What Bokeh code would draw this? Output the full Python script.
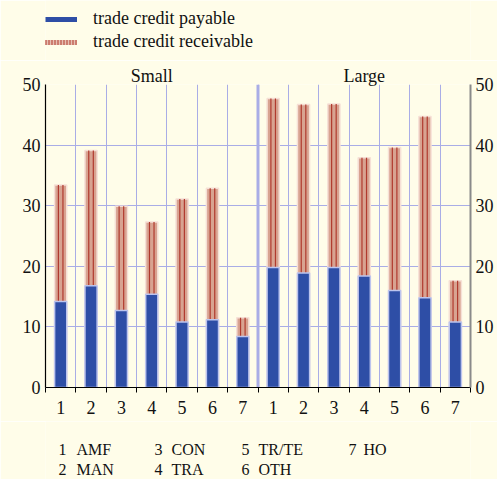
from bokeh.plotting import figure
from bokeh.models import (ColumnDataSource, Range1d, LinearAxis, FixedTicker, Span,
                          Legend, LegendItem)
from bokeh.layouts import column
from bokeh.core.properties import value
from bokeh.transform import dodge
from bokeh.embed import file_html
from bokeh.resources import INLINE
import numpy as np

# ---- data ----
groups = ["Small", "Large"]
sector_ids = ["1", "2", "3", "4", "5", "6", "7"]
sector_codes = ["AMF", "MAN", "CON", "TRA", "TR/TE", "OTH", "HO"]
payable_small = [14.2, 16.8, 12.7, 15.4, 10.8, 11.2, 8.4]
receivable_small = [33.4, 39.1, 29.9, 27.3, 31.1, 32.9, 11.5]
payable_large = [19.8, 18.9, 19.8, 18.4, 16.0, 14.8, 10.8]
receivable_large = [47.7, 46.7, 46.8, 37.9, 39.6, 44.7, 17.6]
y_ticks = [0, 10, 20, 30, 40, 50]

n = len(sector_ids)
ncat = 2 * n
xs = np.arange(ncat) + 0.5
source = ColumnDataSource(dict(
    x=xs,
    pay=payable_small + payable_large,
    recv=receivable_small + receivable_large,
))

BG = "#FFFDE9"
GRID = "#A9ADE6"
FONT = "Liberation Serif"
TXT = "#111111"
W = 497
BL, BR = 45, 27

def bare(h):
    f = figure(width=W, height=h, output_backend="svg", toolbar_location=None,
               x_range=Range1d(0, ncat), y_range=Range1d(0, h),
               x_axis_type=None, y_axis_type=None,
               min_border_left=BL, min_border_right=BR, min_border_top=0, min_border_bottom=0,
               background_fill_color=BG, border_fill_color=BG)
    f.outline_line_color = None
    f.xgrid.visible = False
    f.ygrid.visible = False
    return f

# ---------------- top: legend ----------------
top = bare(60)
nodata = ColumnDataSource(dict(x=[np.nan], y=[np.nan]))
r_pay = top.line("x", "y", source=nodata, line_color="#2E4EA6", line_width=5)
r_rec_bg = top.line("x", "y", source=nodata, line_color="#E6C0B3", line_width=5)
r_rec_fg = top.line("x", "y", source=nodata, line_color="#B23A2C", line_width=5, line_dash="1 2")
legend = Legend(items=[LegendItem(label="trade credit payable", renderers=[r_pay]),
                       LegendItem(label="trade credit receivable", renderers=[r_rec_bg, r_rec_fg])],
                location=(0, 8))
legend.margin = 0
legend.padding = 0
legend.spacing = 2
legend.glyph_width = 32
legend.glyph_height = 20
legend.label_height = 20
legend.label_standoff = 16
legend.label_text_font = FONT
legend.label_text_font_size = "18px"
legend.label_text_color = TXT
legend.background_fill_alpha = 0
legend.border_line_color = None
top.add_layout(legend)

# ---------------- main chart ----------------
p = figure(width=W, height=361, output_backend="svg", toolbar_location=None,
           x_range=top.x_range, y_range=Range1d(0, 50),
           min_border_left=BL, min_border_right=BR, min_border_top=24, min_border_bottom=34,
           background_fill_color=BG, border_fill_color=BG)
p.outline_line_color = None

p.xgrid.ticker = FixedTicker(ticks=list(range(1, ncat)))
p.xgrid.grid_line_color = GRID
p.ygrid.grid_line_color = GRID
p.add_layout(Span(location=n, dimension="height", line_color=GRID, line_width=3, level="underlay"))

p.vbar(x="x", width=0.4, top="recv", bottom=0, source=source,
       fill_color="#D8A391", line_color="#F6E0D6", line_width=1.5)
for off in (-0.075, 0.075):
    p.segment(x0=dodge("x", off), y0=0, x1=dodge("x", off), y1="recv", source=source,
              line_color="#B03A2E", line_width=1.2)
p.vbar(x="x", width=0.4, top="pay", bottom=0, source=source,
       fill_color="#2E4EA6", line_color="#BCC4EE", line_width=1.5)

yt = FixedTicker(ticks=y_ticks)
p.yaxis.ticker = yt
la = p.yaxis[0]
la.axis_line_color = "black"
la.axis_line_width = 1.2
ra = LinearAxis(ticker=yt)
ra.axis_line_color = "#8a8a8a"
ra.axis_line_width = 2
p.add_layout(ra, "right")
for ax in [la, ra]:
    ax.major_tick_out = 0
    ax.major_tick_in = 0
    ax.minor_tick_line_color = None
    ax.major_label_text_font = FONT
    ax.major_label_text_font_size = "18px"
    ax.major_label_text_color = TXT
    ax.major_label_standoff = 5

xa = p.xaxis[0]
xa.ticker = FixedTicker(ticks=list(xs), minor_ticks=list(range(0, ncat + 1)))
xa.major_label_overrides = {float(v): sector_ids[i % n] for i, v in enumerate(xs)}
xa.major_tick_out = 0
xa.major_tick_in = 0
xa.minor_tick_out = 5
xa.minor_tick_in = 0
xa.minor_tick_line_color = "black"
xa.axis_line_color = "black"
xa.axis_line_width = 1.2
xa.major_label_standoff = 8
xa.major_label_text_font = FONT
xa.major_label_text_font_size = "18px"
xa.major_label_text_color = TXT

ta = LinearAxis(ticker=FixedTicker(ticks=[n / 2, n + n / 2]))
ta.major_label_overrides = {n / 2: groups[0], n + n / 2: groups[1]}
ta.axis_line_color = None
ta.major_tick_line_color = None
ta.minor_tick_line_color = None
ta.major_label_standoff = -7
ta.major_label_text_font = FONT
ta.major_label_text_font_size = "18px"
ta.major_label_text_color = TXT
p.add_layout(ta, "above")

# ---------------- bottom: sector key ----------------
KH = 58
key = bare(KH)
key.y_range = Range1d(KH, 0)
px_per_unit = 425 / ncat
def to_data(px):
    return (px - BL) / px_per_unit
num_px = [58, 154, 241, 348]
name_px = [76, 171, 258, 363]
row_px = [28, 48]
kx_num, kx_name, ky = [], [], []
for i in range(n):
    c, r = i // 2, i % 2
    kx_num.append(to_data(num_px[c]))
    kx_name.append(to_data(name_px[c]))
    ky.append(row_px[r])
key_src = ColumnDataSource(dict(xn=kx_num, xc=kx_name, y=ky, num=sector_ids, code=sector_codes))
for xcol, tcol in (("xn", "num"), ("xc", "code")):
    key.text(x=xcol, y="y", text=tcol, source=key_src, text_font=value(FONT),
             text_font_size="16px", text_baseline="middle", text_align="left", text_color=TXT)

layout = column(top, p, key, spacing=0)
open("out.html", "w").write(file_html(layout, INLINE))
